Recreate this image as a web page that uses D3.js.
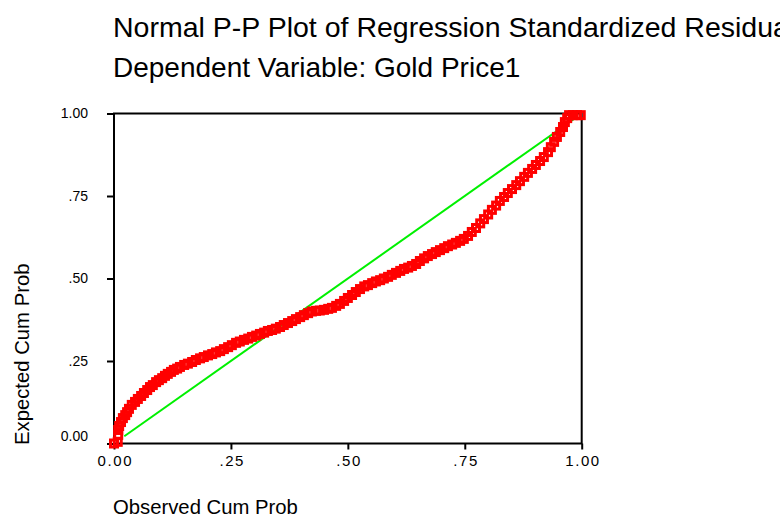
<!DOCTYPE html>
<html>
<head>
<meta charset="utf-8">
<script src="https://cdn.jsdelivr.net/npm/d3@7"></script>
<style>
  html, body { margin: 0; padding: 0; background: #fff; overflow: hidden; }
  svg { display: block; font-family: "Liberation Sans", Arial, sans-serif; }
</style>
</head>
<body>
<svg id="chart" width="780" height="519"></svg>
<script>
// ---- data ----
const titleText = "Normal P-P Plot of Regression Standardized Residual";
const subtitleText = "Dependent Variable: Gold Price1";
const xAxisTitle = "Observed Cum Prob";
const yAxisTitle = "Expected Cum Prob";
const tickValues = [0, 0.25, 0.5, 0.75, 1];
const tickLabels = ["0.00", ".25", ".50", ".75", "1.00"];
const refLine = [0.022, 0.985];   // diagonal reference line extent

const observed = [
  0.000,0.008,0.009,0.009,0.011,0.015,0.019,0.024,0.028,0.032,
  0.038,0.045,0.051,0.058,0.064,0.071,0.077,0.083,0.090,0.096,
  0.103,0.109,0.115,0.122,0.128,0.135,0.141,0.150,0.158,0.167,
  0.175,0.184,0.192,0.201,0.210,0.218,0.227,0.235,0.244,0.252,
  0.261,0.269,0.278,0.287,0.295,0.304,0.312,0.321,0.329,0.338,
  0.346,0.355,0.363,0.372,0.381,0.389,0.398,0.406,0.415,0.423,
  0.432,0.440,0.449,0.458,0.466,0.475,0.483,0.492,0.500,0.509,
  0.517,0.526,0.535,0.543,0.552,0.560,0.569,0.577,0.586,0.594,
  0.603,0.612,0.620,0.629,0.637,0.646,0.654,0.663,0.671,0.680,
  0.688,0.697,0.706,0.714,0.723,0.731,0.740,0.748,0.757,0.765,
  0.774,0.783,0.791,0.800,0.808,0.817,0.825,0.834,0.842,0.851,
  0.860,0.868,0.877,0.885,0.894,0.902,0.911,0.919,0.928,0.934,
  0.941,0.947,0.954,0.960,0.964,0.969,0.973,0.981,0.990,0.998
];
const expected = [
  0.000,0.005,0.026,0.041,0.053,0.065,0.077,0.086,0.095,0.105,
  0.117,0.126,0.135,0.144,0.153,0.162,0.171,0.177,0.186,0.192,
  0.198,0.205,0.211,0.217,0.223,0.227,0.232,0.238,0.242,0.247,
  0.253,0.258,0.262,0.267,0.271,0.276,0.280,0.286,0.292,0.298,
  0.305,0.309,0.314,0.318,0.323,0.327,0.332,0.336,0.341,0.344,
  0.348,0.353,0.359,0.365,0.371,0.377,0.383,0.389,0.395,0.400,
  0.402,0.403,0.405,0.408,0.411,0.417,0.423,0.432,0.441,0.450,
  0.459,0.468,0.476,0.480,0.486,0.491,0.495,0.500,0.505,0.511,
  0.517,0.523,0.529,0.533,0.538,0.544,0.553,0.561,0.568,0.574,
  0.580,0.586,0.592,0.598,0.603,0.608,0.614,0.620,0.629,0.641,
  0.653,0.667,0.680,0.694,0.708,0.721,0.735,0.747,0.759,0.771,
  0.783,0.795,0.808,0.820,0.832,0.844,0.856,0.868,0.883,0.898,
  0.914,0.929,0.944,0.959,0.974,0.986,0.995,0.995,0.995,0.995
];

// ---- drawing ----
const svg = d3.select("#chart");
const x = d3.scaleLinear().domain([0, 1]).range([114, 581.7]);
const y = d3.scaleLinear().domain([0, 1]).range([443.5, 113.5]);

// titles (the reference's first title line runs past the right edge)
svg.append("text").attr("x", 113).attr("y", 37)
  .attr("font-size", "28.5px").attr("fill", "#000").text(titleText);
svg.append("text").attr("x", 113).attr("y", 77)
  .attr("font-size", "28px").attr("fill", "#000").text(subtitleText);

// axes
const fmt = d => tickLabels[tickValues.indexOf(d)];
const gx = svg.append("g").attr("transform", `translate(0,${y(0)})`)
  .call(d3.axisBottom(x).tickValues(tickValues).tickFormat(fmt)
        .tickSize(6).tickSizeOuter(0).tickPadding(5.5));
const gy = svg.append("g").attr("transform", `translate(${x(0)},0)`)
  .call(d3.axisLeft(y).tickValues(tickValues).tickFormat(fmt)
        .tickSize(7).tickSizeOuter(0).tickPadding(25));
[gx, gy].forEach(g => {
  g.select(".domain").remove();
  g.selectAll(".tick line").attr("stroke", "#000").attr("stroke-width", 2);
  g.selectAll(".tick text").attr("font-size", "14px").attr("fill", "#000")
    .attr("font-family", "Liberation Sans, Arial, sans-serif");
});
// x labels are a little wider in the reference
gx.selectAll(".tick text").attr("font-size", "15px")
  .attr("letter-spacing", "1.6px").attr("dx", "0.8px");
// y labels: right edge at x≈88
gy.selectAll(".tick text").attr("text-anchor", "end").attr("x", -(x(0) - 88));
// 0.00 label on y axis is lifted above the corner
gy.selectAll(".tick text").filter(d => d === 0).attr("dy", "-0.2em");

// axis titles
svg.append("text").attr("x", 113).attr("y", 514)
  .attr("font-size", "20.3px").attr("fill", "#000").text(xAxisTitle);
svg.append("text").attr("transform", "translate(29,445) rotate(-90)")
  .attr("font-size", "20.3px").attr("fill", "#000").text(yAxisTitle);

// frame
svg.append("rect")
  .attr("x", x(0)).attr("y", y(1))
  .attr("width", x(1) - x(0)).attr("height", y(0) - y(1))
  .attr("fill", "none").attr("stroke", "#000").attr("stroke-width", 2);

// reference diagonal
svg.append("line")
  .attr("x1", x(refLine[0])).attr("y1", y(refLine[0]))
  .attr("x2", x(refLine[1])).attr("y2", y(refLine[1]))
  .attr("stroke", "#00f000").attr("stroke-width", 2);

// points (hollow squares)
const pts = observed.map((o, i) => ({ o, e: expected[i] }));
const s = 7;
svg.append("g").selectAll("rect").data(pts).join("rect")
  .attr("x", d => x(d.o) - s / 2).attr("y", d => y(d.e) - s / 2)
  .attr("width", s).attr("height", s)
  .attr("fill", "none").attr("stroke", "#ff0000").attr("stroke-width", 3);
</script>
</body>
</html>
